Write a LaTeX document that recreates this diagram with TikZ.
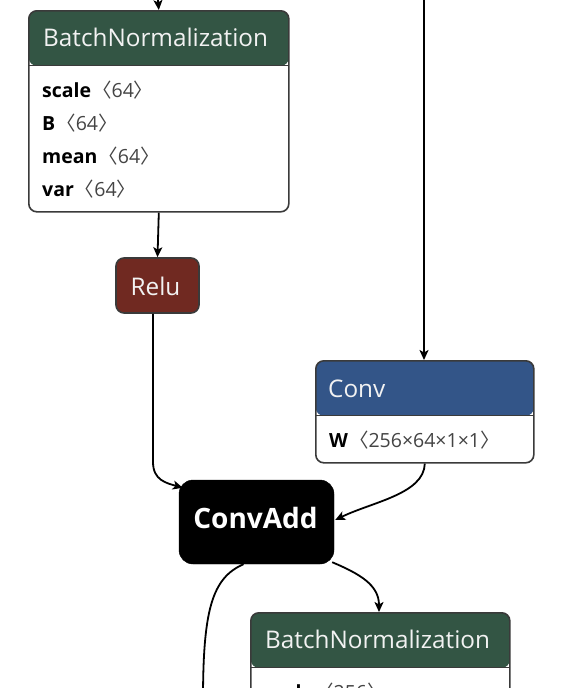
\documentclass[tikz,border=0pt]{standalone}
\usepackage{fontspec}
\setmainfont{Open Sans}
\newfontfamily\cjk{Noto Sans CJK SC}
\usetikzlibrary{arrows.meta}
\definecolor{bngreen}{HTML}{335544}
\definecolor{convblue}{HTML}{335588}
\definecolor{relured}{HTML}{702921}
\definecolor{bordergray}{HTML}{3A3A3A}
\definecolor{valgray}{HTML}{444444}
\definecolor{headtext}{HTML}{F2F2F2}
\newcommand{\shp}[1]{{\color{valgray}\hspace{1pt}{\cjk 〈}#1{\cjk 〉}}}
\begin{document}
\begin{tikzpicture}[x=1pt,y=-1pt,
  box/.style={draw=bordergray, line width=1.6pt, fill=white, rounded corners=8pt, inner sep=0pt, anchor=north west},
  hdr/.style={path picture={\fill[#1] (path picture bounding box.north west) rectangle ([yshift=-55pt]path picture bounding box.north east);
     \draw[bordergray, line width=1.2pt] ([yshift=-55pt]path picture bounding box.north west) -- ([yshift=-55pt]path picture bounding box.north east);}},
  htitle/.style={anchor=base west, inner sep=0pt, font=\fontsize{24.3}{27}\selectfont, text=headtext},
  rowtxt/.style={anchor=base west, inner sep=0pt, font=\fontsize{19.5}{22}\selectfont},
  edge/.style={line width=1.8pt, draw=black, -{Stealth[length=10pt,width=9pt,inset=2.5pt]}},
  plain/.style={line width=1.8pt, draw=black}
]
\useasboundingbox (0,0) rectangle (560,688);
\clip (0,0) rectangle (560,688);
\fill[white] (0,0) rectangle (560,688);

% BatchNormalization 1
\node[box, hdr=bngreen, minimum width=260pt, minimum height=201pt] (bn1) at (28,10) {};
\node[htitle] (bn1t) at (43,46) {BatchNormalization};
\node[rowtxt] (bn1a) at (42,97) {\textbf{scale}\shp{64}};
\node[rowtxt] (bn1b) at (42,130) {\textbf{B}\shp{64}};
\node[rowtxt] (bn1c) at (42,163) {\textbf{mean}\shp{64}};
\node[rowtxt] (bn1d) at (42,196) {\textbf{var}\shp{64}};

% Relu
\node[draw=bordergray, line width=1.6pt, fill=relured, rounded corners=8pt, minimum width=83pt, minimum height=55pt, inner sep=0pt] (relu) at (157.5,285.5) {};
\node[anchor=base, inner sep=0pt, font=\fontsize{24.3}{27}\selectfont, text=headtext] (relut) at (155.5,295) {Relu};

% Conv
\node[box, hdr=convblue, minimum width=218pt, minimum height=102pt] (conv) at (315,360) {};
\node[htitle] (convt) at (328,397) {Conv};
\node[rowtxt] (conva) at (329,447) {\textbf{W}\shp{256×64×1×1}};

% ConvAdd
\node[fill=black, draw=black, rounded corners=14pt, minimum width=155pt, minimum height=84pt, inner sep=0pt] (cadd) at (256.5,522) {};
\node[anchor=base, inner sep=0pt, font=\fontsize{28}{31}\selectfont\bfseries, text=white] (caddt) at (255.5,528) {ConvAdd};

% BatchNormalization 2
\node[box, hdr=bngreen, minimum width=259pt, minimum height=140pt] (bn2) at (250,612) {};
\node[htitle] (bn2t) at (265,648) {BatchNormalization};
\node[rowtxt] (bn2a) at (264,699) {\textbf{scale}\shp{256}};

% connectors
\coordinate (in1) at (158,0);
\coordinate (in2) at (424,0);
\coordinate (out1) at (203,700);
\draw[edge] (in1) -- (bn1.north);
\draw[edge] (bn1.south) -- (relu.north);
\draw[edge] ([xshift=-4.5pt]relu.south) -- (153,462) .. controls (153,480) and (166,483) .. ([xshift=4pt,yshift=-8pt]cadd.north west);
\draw[edge] (in2) -- (in2 |- conv.north);
\draw[edge] (conv.south) .. controls (424,494) and (372,502) .. ([xshift=1pt,yshift=2pt]cadd.east);
\draw[edge] ([xshift=-2pt,yshift=2pt]cadd.south east) .. controls (360,574) and (379,585) .. (379,612);
\draw[plain] ([xshift=-13pt]cadd.south) .. controls (212,578) and (203,610) .. (out1);
\end{tikzpicture}
\end{document}
